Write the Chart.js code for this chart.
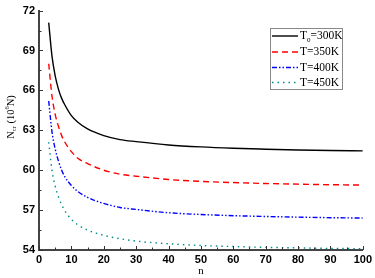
<!DOCTYPE html>
<html>
<head>
<meta charset="utf-8">
<script src="https://cdn.jsdelivr.net/npm/chart.js@4.4.0/dist/chart.umd.min.js"></script>
<style>
  html, body { margin: 0; padding: 0; background: #fff; }
  #wrap { width: 375px; height: 278px; }
</style>
</head>
<body>
<div id="wrap"><canvas id="chart1" width="375" height="278"></canvas></div>
<script>
// values
const nValues = [3, 4, 5, 6, 7, 8, 10, 12, 15, 20, 25, 30, 40, 50, 60, 70, 80, 90, 100];
const t300 = [71.1, 68.6, 67.1, 66.1, 65.4, 64.9, 64.1, 63.6, 63.1, 62.6, 62.3, 62.15, 61.9, 61.75, 61.65, 61.58, 61.52, 61.48, 61.45];
const t350 = [68.0, 65.6, 64.2, 63.3, 62.6, 62.1, 61.4, 60.9, 60.5, 60.0, 59.7, 59.55, 59.3, 59.16, 59.07, 59.0, 58.95, 58.91, 58.88];
const t400 = [65.2, 62.9, 61.6, 60.7, 60.0, 59.5, 58.85, 58.4, 57.95, 57.5, 57.2, 57.05, 56.8, 56.67, 56.58, 56.52, 56.47, 56.43, 56.4];
const t450 = [62.1, 60.0, 58.8, 58.0, 57.4, 56.95, 56.3, 55.9, 55.5, 55.1, 54.85, 54.67, 54.47, 54.34, 54.26, 54.2, 54.16, 54.12, 54.1];

const yTicks = [54, 57, 60, 63, 66, 69, 72];
const xTicks = [0, 10, 20, 30, 40, 50, 60, 70, 80, 90, 100];

const legendItems = [
    {main: "T", sub: "0", rest: "=300K", color: "#000000", dash: []},
    {main: "T", sub: "", rest: "=350K", color: "#ff0000", dash: [6, 4]},
    {main: "T", sub: "", rest: "=400K", color: "#0000ff", dash: [5, 2, 1.5, 2, 1.5, 2]},
    {main: "T", sub: "", rest: "=450K", color: "#008b8b", dash: [1.5, 4]}
];

function toPoints(ys) {
    var pts = [];
    for (var i = 0; i < nValues.length; i++) {
        pts.push({x: nValues[i], y: ys[i]});
    }
    return pts;
}

function makeSet(ys, item) {
    return {
        data: toPoints(ys),
        borderColor: item.color,
        borderWidth: 1.4,
        borderDash: item.dash,
        pointRadius: 0,
        fill: false,
        cubicInterpolationMode: 'monotone'
    };
}

// small inward ticks, axis titles and the boxed legend
const extras = {
    id: 'extras',
    afterDraw(chart) {
        const ctx = chart.ctx;
        const xs = chart.scales.x;
        const ys = chart.scales.y;
        const area = chart.chartArea;
        ctx.save();
        ctx.strokeStyle = '#333';
        ctx.lineWidth = 1;
        for (var v = 54; v <= 72; v += 1.5) {
            var py = Math.round(ys.getPixelForValue(v)) + 0.5;
            var len = (v % 3 === 0) ? 4 : 2.5;
            ctx.beginPath();
            ctx.moveTo(area.left, py);
            ctx.lineTo(area.left + len, py);
            ctx.stroke();
        }
        for (var n = 0; n <= 100; n += 5) {
            var px = Math.round(xs.getPixelForValue(n)) + 0.5;
            var l2 = (n % 10 === 0) ? 4 : 2.5;
            ctx.beginPath();
            ctx.moveTo(px, area.bottom);
            ctx.lineTo(px, area.bottom - l2);
            ctx.stroke();
        }

        // x title
        ctx.fillStyle = '#000';
        ctx.font = '11px "Liberation Serif"';
        ctx.textAlign = 'center';
        ctx.textBaseline = 'middle';
        ctx.fillText('n', (area.left + area.right) / 2, 271);

        // y title, rotated
        ctx.save();
        ctx.translate(11, 117);
        ctx.rotate(-Math.PI / 2);
        ctx.textAlign = 'left';
        ctx.textBaseline = 'middle';
        var parts = [
            {t: 'N', f: '10.5px "Liberation Serif"', dy: 0},
            {t: 'cr', f: '6.5px "Liberation Serif"', dy: 3},
            {t: ' (10', f: '10.5px "Liberation Serif"', dy: 0},
            {t: '6', f: '6.5px "Liberation Serif"', dy: -4},
            {t: 'N)', f: '10.5px "Liberation Serif"', dy: 0}
        ];
        var total = 0;
        parts.forEach(function (p) { ctx.font = p.f; total += ctx.measureText(p.t).width; });
        var cx = -total / 2;
        parts.forEach(function (p) {
            ctx.font = p.f;
            ctx.fillText(p.t, cx, p.dy);
            cx += ctx.measureText(p.t).width;
        });
        ctx.restore();

        // legend box
        ctx.strokeStyle = '#888';
        ctx.lineWidth = 1;
        ctx.strokeRect(270.5, 28.5, 72, 61);
        var rowY = [36, 52, 67.5, 82.5];
        legendItems.forEach(function (item, i) {
            var y = rowY[i];
            ctx.strokeStyle = item.color;
            ctx.lineWidth = 1.4;
            ctx.setLineDash(item.dash);
            ctx.beginPath();
            ctx.moveTo(272, y);
            ctx.lineTo(298, y);
            ctx.stroke();
            ctx.setLineDash([]);
            ctx.fillStyle = '#000';
            ctx.textAlign = 'left';
            ctx.textBaseline = 'middle';
            var x = 300;
            ctx.font = '11.5px "Liberation Serif"';
            ctx.fillText(item.main, x, y);
            x += ctx.measureText(item.main).width;
            if (item.sub) {
                ctx.font = '7px "Liberation Serif"';
                ctx.fillText(item.sub, x, y + 4);
                x += ctx.measureText(item.sub).width;
            }
            ctx.font = '11.5px "Liberation Serif"';
            ctx.fillText(item.rest, x, y);
        });
        ctx.restore();
    }
};

new Chart(document.getElementById('chart1'), {
    type: 'line',
    data: {
        datasets: [
            makeSet(t300, legendItems[0]),
            makeSet(t350, legendItems[1]),
            makeSet(t400, legendItems[2]),
            makeSet(t450, legendItems[3])
        ]
    },
    options: {
        responsive: false,
        animation: false,
        layout: {padding: {top: 10, right: 12, left: 0, bottom: 0}},
        plugins: {legend: {display: false}, tooltip: {enabled: false}},
        scales: {
            x: {
                type: 'linear',
                min: 0,
                max: 100,
                afterFit: function (s) { s.height = 28; },
                afterBuildTicks: function (s) { s.ticks = xTicks.map(function (v) { return {value: v}; }); },
                grid: {display: false, drawTicks: false},
                border: {display: true, color: '#444', width: 2},
                ticks: {color: '#000', padding: 3, maxRotation: 0, font: {family: 'Liberation Sans', size: 11, weight: 'bold'}}
            },
            y: {
                min: 54,
                max: 72,
                afterFit: function (s) { s.width = 39; },
                afterBuildTicks: function (s) { s.ticks = yTicks.map(function (v) { return {value: v}; }); },
                grid: {display: false, drawTicks: false},
                border: {display: true, color: '#444', width: 2},
                ticks: {color: '#000', padding: 4, font: {family: 'Liberation Sans', size: 11, weight: 'bold'}}
            }
        }
    },
    plugins: [extras]
});
</script>
</body>
</html>
